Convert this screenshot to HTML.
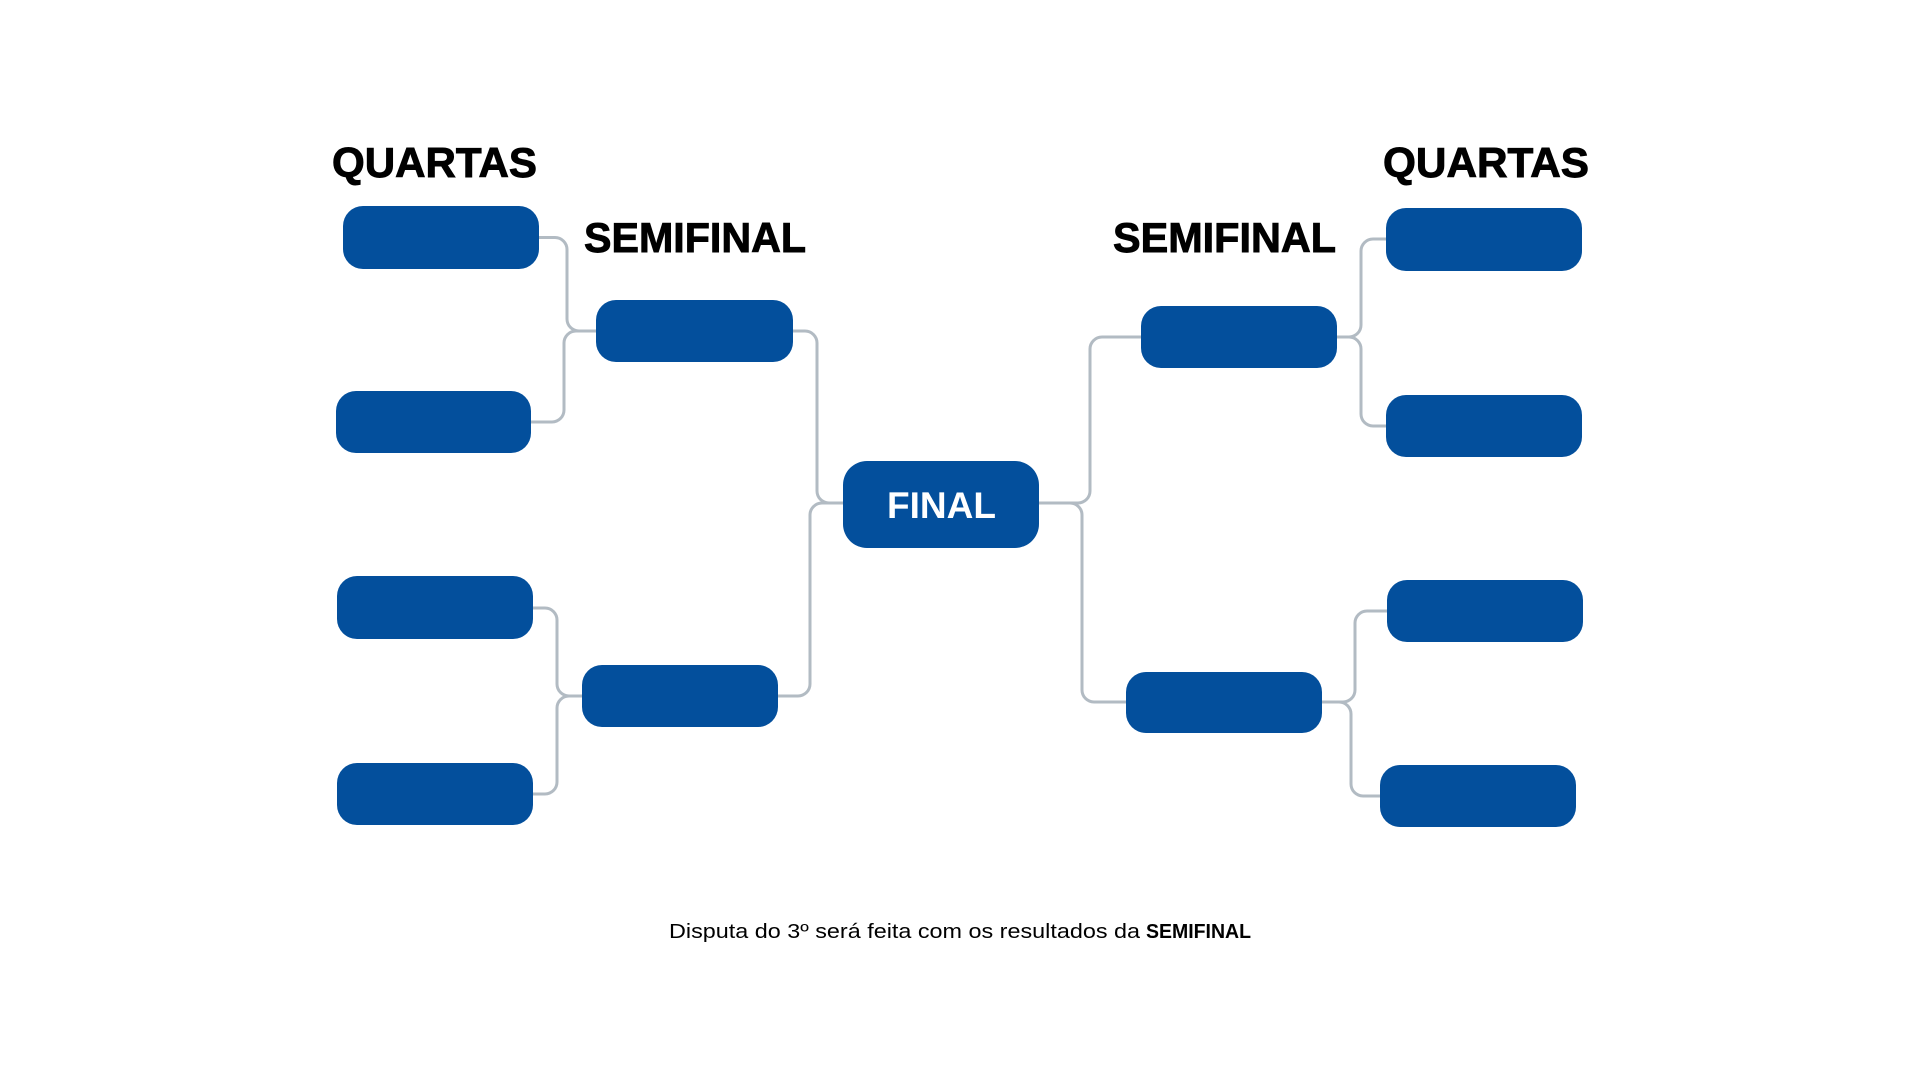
<!DOCTYPE html>
<html>
<head>
<meta charset="utf-8">
<style>
html,body{margin:0;padding:0;background:#ffffff;}
body{width:1920px;height:1080px;overflow:hidden;}
svg{display:block;}
.h{font-family:"Liberation Sans",Arial,sans-serif;font-weight:bold;font-size:42px;fill:#000;stroke:#000;stroke-width:0.9px;}
.c{fill:none;stroke:#b2bbc3;stroke-width:3;stroke-linecap:butt;}
.b{fill:#034f9c;}
</style>
</head>
<body>
<svg width="1920" height="1080" viewBox="0 0 1920 1080" xmlns="http://www.w3.org/2000/svg">
  <rect width="1920" height="1080" fill="#ffffff"/>

  <!-- Headings -->
  <text class="h" x="332" y="177" textLength="205" lengthAdjust="spacingAndGlyphs">QUARTAS</text>
  <text class="h" x="584" y="252" textLength="222" lengthAdjust="spacingAndGlyphs">SEMIFINAL</text>
  <text class="h" x="1113" y="252" textLength="223" lengthAdjust="spacingAndGlyphs">SEMIFINAL</text>
  <text class="h" x="1383" y="177" textLength="206" lengthAdjust="spacingAndGlyphs">QUARTAS</text>

  <!-- Connectors left -->
  <path class="c" d="M539 237.5 H555 A12 12 0 0 1 567 249.5 V319 A12 12 0 0 0 579 331 H597"/>
  <path class="c" d="M531 422 H552 A12 12 0 0 0 564 410 V343 A12 12 0 0 1 576 331 H597"/>
  <path class="c" d="M793 331 H805 A12 12 0 0 1 817 343 V491 A12 12 0 0 0 829 503 H844"/>
  <path class="c" d="M778 696 H798 A12 12 0 0 0 810 684 V515 A12 12 0 0 1 822 503 H844"/>
  <path class="c" d="M533 608 H545 A12 12 0 0 1 557 620 V684 A12 12 0 0 0 569 696 H583"/>
  <path class="c" d="M533 794 H545 A12 12 0 0 0 557 782 V708 A12 12 0 0 1 569 696 H583"/>

  <!-- Connectors right -->
  <path class="c" d="M1038 503 H1078 A12 12 0 0 0 1090 491 V349 A12 12 0 0 1 1102 337 H1142"/>
  <path class="c" d="M1038 503 H1070 A12 12 0 0 1 1082 515 V690 A12 12 0 0 0 1094 702 H1127"/>
  <path class="c" d="M1336 337 H1349 A12 12 0 0 0 1361 325 V251 A12 12 0 0 1 1373 239 H1387"/>
  <path class="c" d="M1336 337 H1349 A12 12 0 0 1 1361 349 V414 A12 12 0 0 0 1373 426 H1387"/>
  <path class="c" d="M1321 702 H1343 A12 12 0 0 0 1355 690 V623 A12 12 0 0 1 1367 611 H1388"/>
  <path class="c" d="M1321 702 H1339 A12 12 0 0 1 1351 714 V784 A12 12 0 0 0 1363 796 H1381"/>

  <!-- Boxes left -->
  <rect class="b" x="343" y="206" width="196" height="63" rx="20" ry="20"/>
  <rect class="b" x="336" y="391" width="195" height="62" rx="20" ry="20"/>
  <rect class="b" x="337" y="576" width="196" height="63" rx="20" ry="20"/>
  <rect class="b" x="337" y="763" width="196" height="62" rx="20" ry="20"/>
  <rect class="b" x="596" y="300" width="197" height="62" rx="20" ry="20"/>
  <rect class="b" x="582" y="665" width="196" height="62" rx="20" ry="20"/>

  <!-- Final -->
  <rect class="b" x="843" y="461" width="196" height="87" rx="24" ry="24"/>
  <text x="887" y="518" textLength="109" lengthAdjust="spacingAndGlyphs" style="font-family:'Liberation Sans',Arial,sans-serif;font-weight:bold;font-size:37px;fill:#ffffff;">FINAL</text>

  <!-- Boxes right -->
  <rect class="b" x="1141" y="306" width="196" height="62" rx="20" ry="20"/>
  <rect class="b" x="1126" y="672" width="196" height="61" rx="20" ry="20"/>
  <rect class="b" x="1386" y="208" width="196" height="63" rx="20" ry="20"/>
  <rect class="b" x="1386" y="395" width="196" height="62" rx="20" ry="20"/>
  <rect class="b" x="1387" y="580" width="196" height="62" rx="20" ry="20"/>
  <rect class="b" x="1380" y="765" width="196" height="62" rx="20" ry="20"/>

  <!-- Footnote -->
  <text x="669" y="938" textLength="471" lengthAdjust="spacingAndGlyphs" style="font-family:'Liberation Sans',Arial,sans-serif;font-size:20.5px;fill:#000;">Disputa do 3º será feita com os resultados da</text>
  <text x="1146" y="938" textLength="105" lengthAdjust="spacingAndGlyphs" style="font-family:'Liberation Sans',Arial,sans-serif;font-weight:bold;font-size:20.5px;fill:#000;">SEMIFINAL</text>
</svg>
</body>
</html>
